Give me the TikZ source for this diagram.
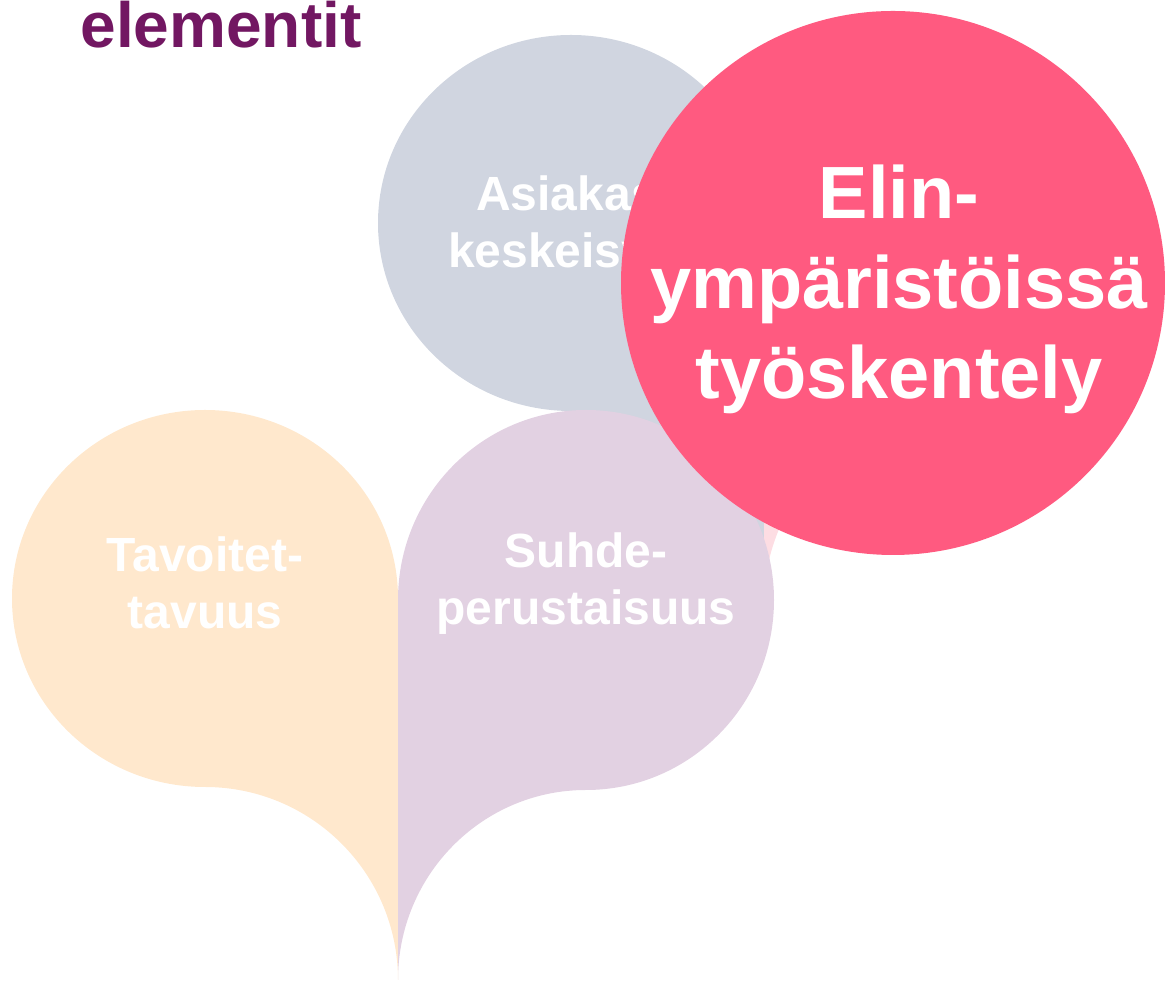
\documentclass[tikz,border=0pt]{standalone}
\usepackage{fontspec}
\setmainfont{Liberation Sans}
\definecolor{titlepurple}{HTML}{721762}
\definecolor{hotpink}{HTML}{FF5A80}
\definecolor{palepink}{HTML}{FDDDE3}
\definecolor{palegrey}{HTML}{D0D5E0}
\definecolor{paleorange}{HTML}{FFE8CD}
\definecolor{palelilac}{HTML}{E2D1E2}

\begin{document}
\begin{tikzpicture}[x=1pt,y=1pt,
	txt/.style={text=white, align=center, font=\bfseries\fontsize{48}{57}\selectfont},
	bigtxt/.style={text=white, align=center, font=\bfseries\fontsize{74}{90}\selectfont}]
	\useasboundingbox (0,0) rectangle (1165,987);

	% ylarivi: harmaa ja vaalea pinkki
	\fill[palegrey] (764,764) -- (764,383)
		arc[start angle=0, end angle=90, radius=193pt]
		arc[start angle=-90, end angle=-360, x radius=193pt, y radius=188pt] -- cycle;
	\node[txt] (asiakas) at (575,760) {Asiakas-\\keskeisyys};
	\fill[palepink] (764,576) -- (764,383)
		arc[start angle=180, end angle=90, radius=193pt] -- cycle;

	% alarivi: oranssi ja liila
	\fill[paleorange] (398,388.5) -- (398,7)
		arc[start angle=0, end angle=90, radius=193pt]
		arc[start angle=-90, end angle=-360, x radius=193pt, y radius=188.5pt] -- cycle;
	\fill[palelilac] (398,387) -- (398,7)
		arc[start angle=180, end angle=90, x radius=188pt, y radius=190pt]
		arc[start angle=-90, end angle=180, x radius=188pt, y radius=190pt] -- cycle;
	\node[txt] (tavoite) at (205,404) {Tavoitet-\\tavuus};
	\node[txt] (suhde) at (586,403) {Suhde-\\perustaisuus};

	% korostettu pallo
	\fill[hotpink] (893,704) circle (272pt);
	\node[bigtxt] (elin) at (899,698) {Elin-\\ympäristöissä\\työskentely};

	\node[anchor=base west, text=titlepurple, font=\bfseries\fontsize{64}{70}\selectfont] (otsikko) at (77,939) {elementit};
\end{tikzpicture}
\end{document}
